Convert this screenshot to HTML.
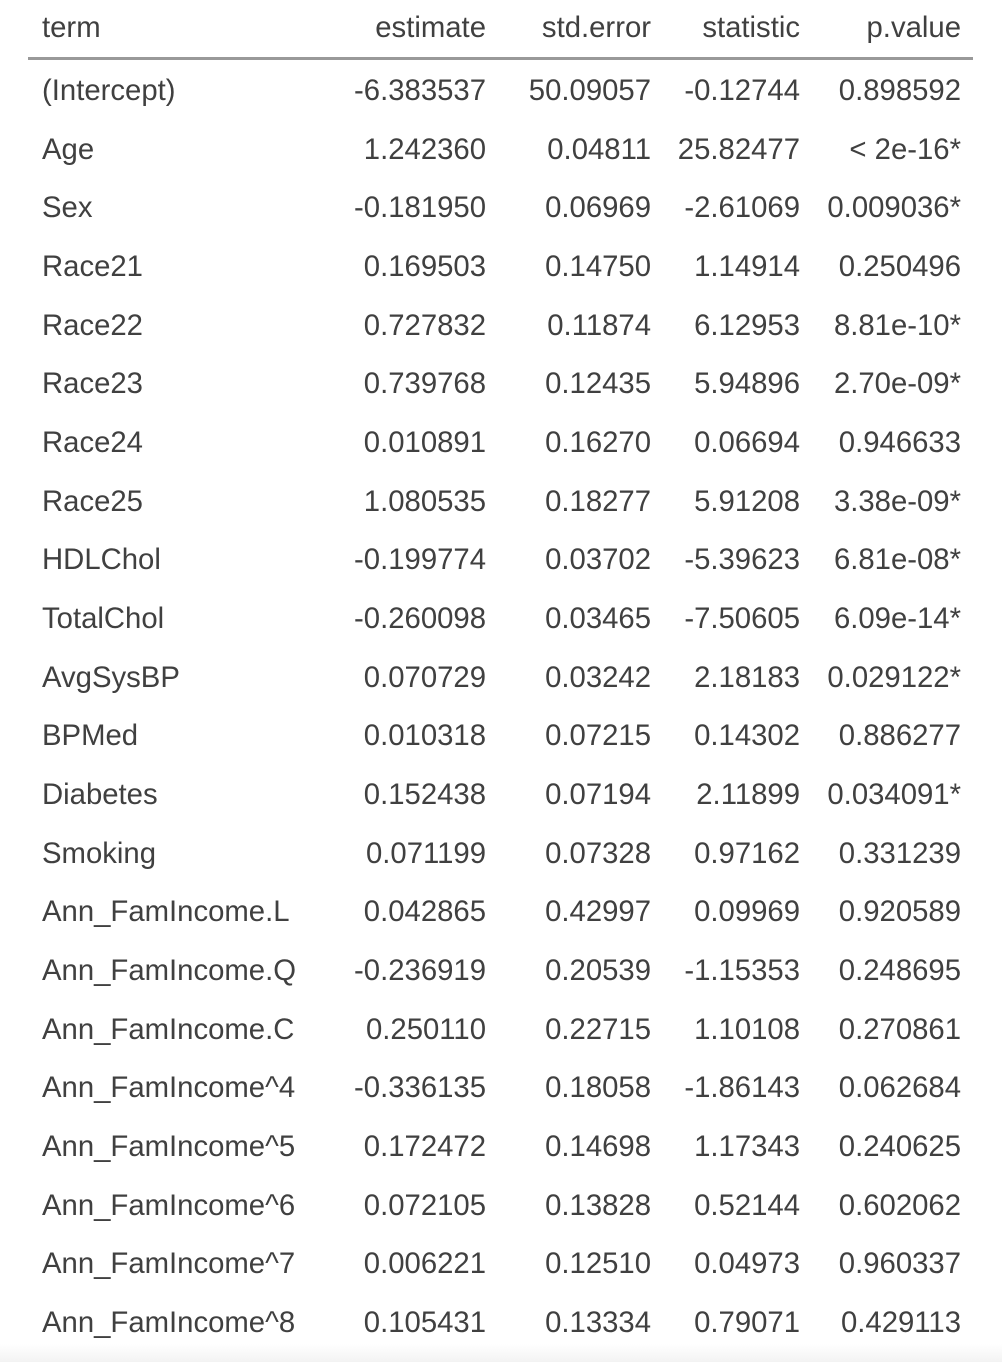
<!DOCTYPE html>
<html><head><meta charset="utf-8">
<style>
html,body{margin:0;padding:0;width:1002px;height:1362px;overflow:hidden;background:#fff;}
body{background:linear-gradient(to bottom,#fff 0,#fff 1344px,#f3f3f3 1362px);}
.t{position:absolute;font-family:"Liberation Sans",Arial,sans-serif;font-size:29.3px;color:#404040;line-height:40px;white-space:nowrap;}
.l{left:42px;}
.r{text-align:right;}
#rule{position:absolute;left:28px;top:57px;width:945px;height:3px;background:#999;}
</style></head>
<body>
<div id="tbl"></div>
<div id="rule"></div>
<script>
const terms=["(Intercept)","Age","Sex","Race21","Race22","Race23","Race24","Race25","HDLChol","TotalChol","AvgSysBP","BPMed","Diabetes","Smoking","Ann_FamIncome.L","Ann_FamIncome.Q","Ann_FamIncome.C","Ann_FamIncome^4","Ann_FamIncome^5","Ann_FamIncome^6","Ann_FamIncome^7","Ann_FamIncome^8"];
const estimates=["-6.383537","1.242360","-0.181950","0.169503","0.727832","0.739768","0.010891","1.080535","-0.199774","-0.260098","0.070729","0.010318","0.152438","0.071199","0.042865","-0.236919","0.250110","-0.336135","0.172472","0.072105","0.006221","0.105431"];
const stderrs=["50.09057","0.04811","0.06969","0.14750","0.11874","0.12435","0.16270","0.18277","0.03702","0.03465","0.03242","0.07215","0.07194","0.07328","0.42997","0.20539","0.22715","0.18058","0.14698","0.13828","0.12510","0.13334"];
const stats=["-0.12744","25.82477","-2.61069","1.14914","6.12953","5.94896","0.06694","5.91208","-5.39623","-7.50605","2.18183","0.14302","2.11899","0.97162","0.09969","-1.15353","1.10108","-1.86143","1.17343","0.52144","0.04973","0.79071"];
const pvals=["0.898592","< 2e-16*","0.009036*","0.250496","8.81e-10*","2.70e-09*","0.946633","3.38e-09*","6.81e-08*","6.09e-14*","0.029122*","0.886277","0.034091*","0.331239","0.920589","0.248695","0.270861","0.062684","0.240625","0.602062","0.960337","0.429113"];
const headers=["term","estimate","std.error","statistic","p.value"];
const rights=[null,486,651,800,961];
const tbl=document.getElementById('tbl');
function cell(txt,col,cy,name){
  const d=document.createElement('div');
  d.className='t '+(col===0?'l':'r');
  d.textContent=txt;
  d.style.top=(cy-19)+'px';
  if(col>0){d.style.right=(1002-rights[col])+'px';}
  
  
  tbl.appendChild(d);
}
headers.forEach((h,c)=>cell(h,c,27,'header-'+h.replace('.','-')));
const cols=[terms,estimates,stderrs,stats,pvals];
const colNames=['term','estimate','std-error','statistic','p-value'];
for(let i=0;i<terms.length;i++){
  const cy=90+i*58.67;
  for(let c=0;c<5;c++){
    cell(cols[c][i],c,cy,colNames[c]+'-cell');
  }
}
</script>
</body></html>
